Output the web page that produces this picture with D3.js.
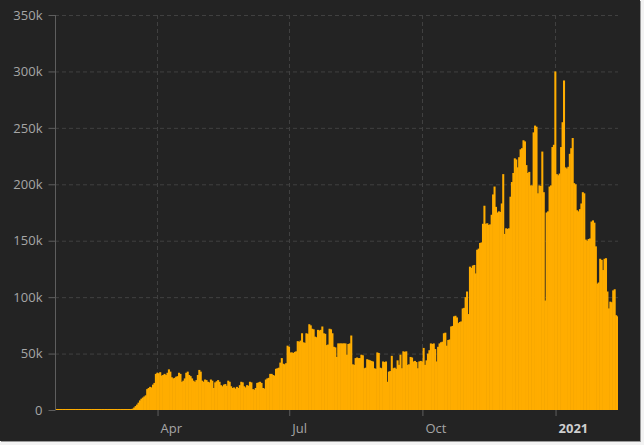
<!DOCTYPE html>
<html>
<head>
<meta charset="utf-8">
<script src="https://cdn.jsdelivr.net/npm/d3@7"></script>
<style>
  html, body { margin: 0; padding: 0; background: #f3f3f3; }
  svg { display: block; }
</style>
</head>
<body>
<svg id="chart" width="644" height="445"></svg>
<script>
// ---- data (daily new cases, thousands), one value per day from 2020-01-22 ----
const startDate = "2020-01-22";
const casesK = [
  0.001,0,0.001,0,0.003,0,0,0,0,0.001,
  0.001,0.001,0.001,0,0,0,0,0,0,0.001,
  0,0,0,0,0,0,0.001,0,0,0,
  0,0,0,0,0.002,0,0,0.002,0.008,0.007,
  0.023,0.019,0.033,0.077,0.053,0.166,0.116,0.075,0.188,0.365,
  0.4,0.6,0.8,1.2,2.2,3.5,4.8,6.5,8.5,10.0,
  11.0,12.0,13.0,18.5,19.5,20.5,20.0,22.5,24.0,32.0,
  33.0,32.5,33.5,30.5,31.0,32.0,31.0,33.0,36.0,34.0,
  29.0,28.0,28.5,29.5,30.0,33.0,32.0,25.0,26.0,28.0,
  33.0,34.0,31.0,30.0,28.0,26.0,25.0,26.5,31.0,35.5,
  34.0,26.0,25.0,27.0,26.5,25.0,24.5,27.0,26.0,19.5,
  24.5,25.5,26.5,25.0,22.0,21.0,22.5,23.0,21.5,26.0,
  25.0,21.0,19.5,20.0,19.0,20.5,19.5,22.0,25.0,24.5,
  21.0,20.0,22.0,21.5,25.0,24.5,18.5,18.0,19.5,24.0,
  24.5,25.0,24.0,19.5,19.0,27.0,28.0,28.5,32.0,32.0,
  31.0,30.5,36.5,37.0,37.5,42.0,46.0,41.0,40.5,41.5,
  57.0,56.0,51.0,51.0,50.5,51.5,52.0,61.0,60.5,61.5,
  68.0,60.0,59.5,68.0,67.5,76.0,75.0,72.0,71.5,65.0,
  64.5,71.0,70.5,71.0,74.0,68.0,67.5,57.5,58.0,72.0,
  71.5,68.0,56.0,55.5,47.0,59.0,59.0,59.0,59.0,59.0,
  59.0,49.0,58.5,59.0,66.0,40.5,40.0,46.0,46.5,46.0,
  46.0,49.0,48.5,37.0,37.5,45.0,44.5,44.0,43.5,43.0,
  37.0,36.5,51.0,50.5,37.5,37.0,43.0,42.5,43.0,25.0,
  34.0,34.5,48.0,37.0,37.5,36.5,44.0,40.0,49.0,37.0,
  52.0,51.5,52.0,40.0,40.5,47.0,46.5,43.0,43.5,42.5,
  37.0,43.0,43.5,43.0,55.0,40.0,44.0,50.0,53.0,59.0,
  58.5,59.0,54.0,43.0,56.0,59.0,60.0,60.5,68.0,68.5,
  57.0,62.0,62.5,74.0,74.5,83.0,83.5,82.0,77.0,78.0,
  78.5,90.0,90.5,100.0,105.0,85.0,127.0,126.0,128.0,128.5,
  121.0,142.0,143.0,148.0,148.5,165.0,181.0,165.0,165.5,164.0,
  164.5,173.0,191.0,198.0,180.0,175.0,176.0,175.5,183.0,209.0,
  156.0,161.0,160.5,161.0,189.0,202.0,210.0,223.0,222.0,215.0,
  224.0,231.0,232.0,239.0,238.0,217.0,210.0,211.0,199.0,199.0,
  246.0,252.0,251.0,192.0,199.0,198.5,229.0,193.0,97.0,175.0,
  176.0,198.0,199.0,233.0,235.0,300.0,209.0,208.0,209.5,233.0,
  255.0,292.0,215.0,214.0,215.5,227.0,232.0,241.0,201.0,200.0,
  177.0,176.0,178.0,183.0,193.0,192.0,151.0,150.0,151.5,152.0,
  167.0,168.0,166.0,145.0,112.0,113.0,134.0,133.0,124.0,134.0,
  134.5,105.0,90.0,96.0,95.5,106.0,107.0,84.0,83.0
];
const yTicks = [0, 50, 100, 150, 200, 250, 300, 350];
const yTickLabels = ["0", "50k", "100k", "150k", "200k", "250k", "300k", "350k"];
const xTickDates = ["2020-04-01", "2020-07-01", "2020-10-01", "2021-01-01"];
const xTickLabels = ["Apr", "Jul", "Oct", "2021"];
const xDomain = ["2020-01-21T12:00:00Z", "2021-02-13T12:00:00Z"];

// ---- drawing ----
const svg = d3.select("#chart");
const W = 644, H = 445;
const m = { left: 55, right: 618, top: 15, bottom: 410 };

// screenshot frame
svg.append("rect").attr("x", 0).attr("y", 0).attr("width", W).attr("height", H).attr("fill", "#f3f3f3");
svg.append("rect").attr("x", 1).attr("y", 1).attr("width", 640).attr("height", 441).attr("fill", "#9a9a9a");
svg.append("rect").attr("x", 0).attr("y", 0).attr("width", 640).attr("height", 441).attr("fill", "#232323");

const parse = d3.utcParse("%Y-%m-%d");
const start = parse(startDate);
const data = casesK.map((v, i) => ({ date: d3.utcDay.offset(start, i), v }));

const x = d3.scaleUtc().domain(xDomain.map(s => new Date(s))).range([m.left, m.right]);
const y = d3.scaleLinear().domain([0, 350]).range([m.bottom, m.top]);

const font = "'Segoe UI', 'Open Sans', 'Noto Sans', sans-serif";

// horizontal grid
svg.append("g").selectAll("line").data(yTicks.filter(t => t > 0)).join("line")
  .attr("x1", m.left).attr("x2", m.right)
  .attr("y1", d => y(d) + 0.5).attr("y2", d => y(d) + 0.5)
  .attr("stroke", "#404040").attr("stroke-width", 1).attr("stroke-dasharray", "4,3");

// vertical grid
svg.append("g").selectAll("line").data(xTickDates).join("line")
  .attr("x1", d => Math.round(x(parse(d))) + 0.5).attr("x2", d => Math.round(x(parse(d))) + 0.5)
  .attr("y1", m.top).attr("y2", m.bottom)
  .attr("stroke", "#404040").attr("stroke-width", 1).attr("stroke-dasharray", "4,3");

// bars (slight overlap to avoid anti-aliasing seams)
const step = x(d3.utcDay.offset(start, 1)) - x(start);
svg.append("g").selectAll("rect").data(data).join("rect")
  .attr("x", d => x(d.date) - step / 2)
  .attr("width", (d, i) => i === data.length - 1 ? step : step + 0.6)
  .attr("y", d => Math.min(y(d.v), m.bottom - 1))
  .attr("height", d => Math.max(1, m.bottom - y(d.v)))
  .attr("fill", "#ffad00");

// y axis
const yAxis = d3.axisLeft(y).tickValues(yTicks).tickFormat((d, i) => yTickLabels[i]).tickSize(7).tickPadding(6);
const gy = svg.append("g").attr("transform", `translate(${m.left + 0.5},0)`).call(yAxis);
gy.select(".domain").attr("stroke", "#5e5e5e").attr("d", `M0,${m.top}V${m.bottom}`);
gy.selectAll(".tick line").attr("stroke", "#5e5e5e");
gy.selectAll(".tick text").attr("fill", "#a6a6a6").style("font-family", font).style("font-size", "13px");

// x axis
const xAxis = d3.axisBottom(x).tickValues(xTickDates.map(parse)).tickFormat((d, i) => xTickLabels[i]).tickSize(6).tickPadding(8);
const gx = svg.append("g").attr("transform", `translate(0,${m.bottom})`).call(xAxis);
gx.select(".domain").remove();
gx.selectAll(".tick line").attr("stroke", "#5e5e5e").attr("transform", "translate(0.5,0)");
gx.selectAll(".tick text")
  .attr("text-anchor", "start").attr("dx", 3)
  .attr("fill", (d, i) => i === 3 ? "#cfcfcf" : "#a6a6a6")
  .style("font-weight", (d, i) => i === 3 ? "bold" : "normal")
  .style("font-family", font).style("font-size", "13px");
</script>
</body>
</html>
